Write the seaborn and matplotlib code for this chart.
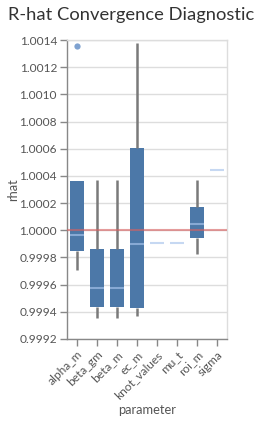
import numpy as np
import pandas as pd
import matplotlib
matplotlib.use("Agg")
import matplotlib.pyplot as plt
import seaborn as sns

# Parameters and the five-number-like samples
parameters = ["alpha_m", "beta_gm", "beta_m", "ec_m", "knot_values", "mu_t", "roi_m", "sigma"]
alpha_m = [0.99971, 0.999845, 0.999963, 1.000363, 1.001354]
beta_gm = [0.999357, 0.999433, 0.999578, 0.999865, 1.000368]
beta_m = [0.999357, 0.999433, 0.999578, 0.999865, 1.000368]
ec_m = [0.999366, 0.999427, 0.999899, 1.000607, 1.00138]
knot_values = [0.999906, 0.999906, 0.999906]
mu_t = [0.999906, 0.999906, 0.999906]
roi_m = [0.999828, 0.999946, 1.000046, 1.000169, 1.000368]
sigma = [1.000447, 1.000447, 1.000447]
reference_rhat = 1.0
y_ticks = [0.9992, 0.9994, 0.9996, 0.9998, 1.0000, 1.0002, 1.0004, 1.0006, 1.0008, 1.0010, 1.0012, 1.0014]

series = [alpha_m, beta_gm, beta_m, ec_m, knot_values, mu_t, roi_m, sigma]
rows = []
for p, vals in zip(parameters, series):
    for v in vals:
        rows.append({"parameter": p, "rhat": v})
df = pd.DataFrame(rows)

sns.set_style("white")
plt.rcParams["font.family"] = ["Lato", "DejaVu Sans"]

fig = plt.figure(figsize=(2.61, 4.22), dpi=100)
ax = fig.add_axes([0.2556, 0.1967, 0.8686 - 0.2556, 0.9052 - 0.1967])

sns.boxplot(
    data=df, x="parameter", y="rhat", order=parameters, ax=ax,
    color="#4c78a8", width=0.7, whis=1.5, saturation=1,
    boxprops=dict(facecolor="#4c78a8", edgecolor="#4c78a8", linewidth=0),
    whiskerprops=dict(color="#7a7a7a", linewidth=1.8),
    capprops=dict(linewidth=0),
    medianprops=dict(color="#a8c4ec", linewidth=1.5, alpha=0.65),
    flierprops=dict(marker="o", markersize=4.5, markerfacecolor="#7fa2d0",
                    markeredgecolor="none"),
)

ax.axhline(reference_rhat, color="#d95f5f", alpha=0.6, linewidth=1.5, zorder=5)

ax.set_ylim(0.9992, 1.0014)
ax.set_xlim(-0.5, len(parameters) - 0.5)
ax.set_yticks(y_ticks)
ax.set_yticklabels([f"{t:.4f}" for t in y_ticks])
ax.yaxis.grid(True, color="#dddddd", linewidth=1)
ax.set_axisbelow(True)

for side in ["top", "right"]:
    ax.spines[side].set_color("#dddddd")
    ax.spines[side].set_linewidth(1)
for side in ["left", "bottom"]:
    ax.spines[side].set_color("#888888")
    ax.spines[side].set_linewidth(1)

ax.tick_params(axis="both", colors="#888888", length=5, width=1, labelsize=8.6,
               labelcolor="#555555", direction="out", pad=2)
ax.tick_params(axis="y", left=True)
ax.tick_params(axis="x", bottom=True)
plt.setp(ax.get_xticklabels(), rotation=45, ha="right", rotation_mode="anchor")

ax.set_xlabel("parameter", fontsize=9.3, color="#555555", va="center")
ax.xaxis.set_label_coords(0.5, -0.237)
ax.set_ylabel("rhat", fontsize=9.3, color="#555555", va="center")
ax.yaxis.set_label_coords(-0.335, 0.5)
fig.text(0.03, 0.965, "R-hat Convergence Diagnostic", fontsize=13.2, color="#333333",
         ha="left", va="center")

fig.savefig("out.png", dpi=100)
